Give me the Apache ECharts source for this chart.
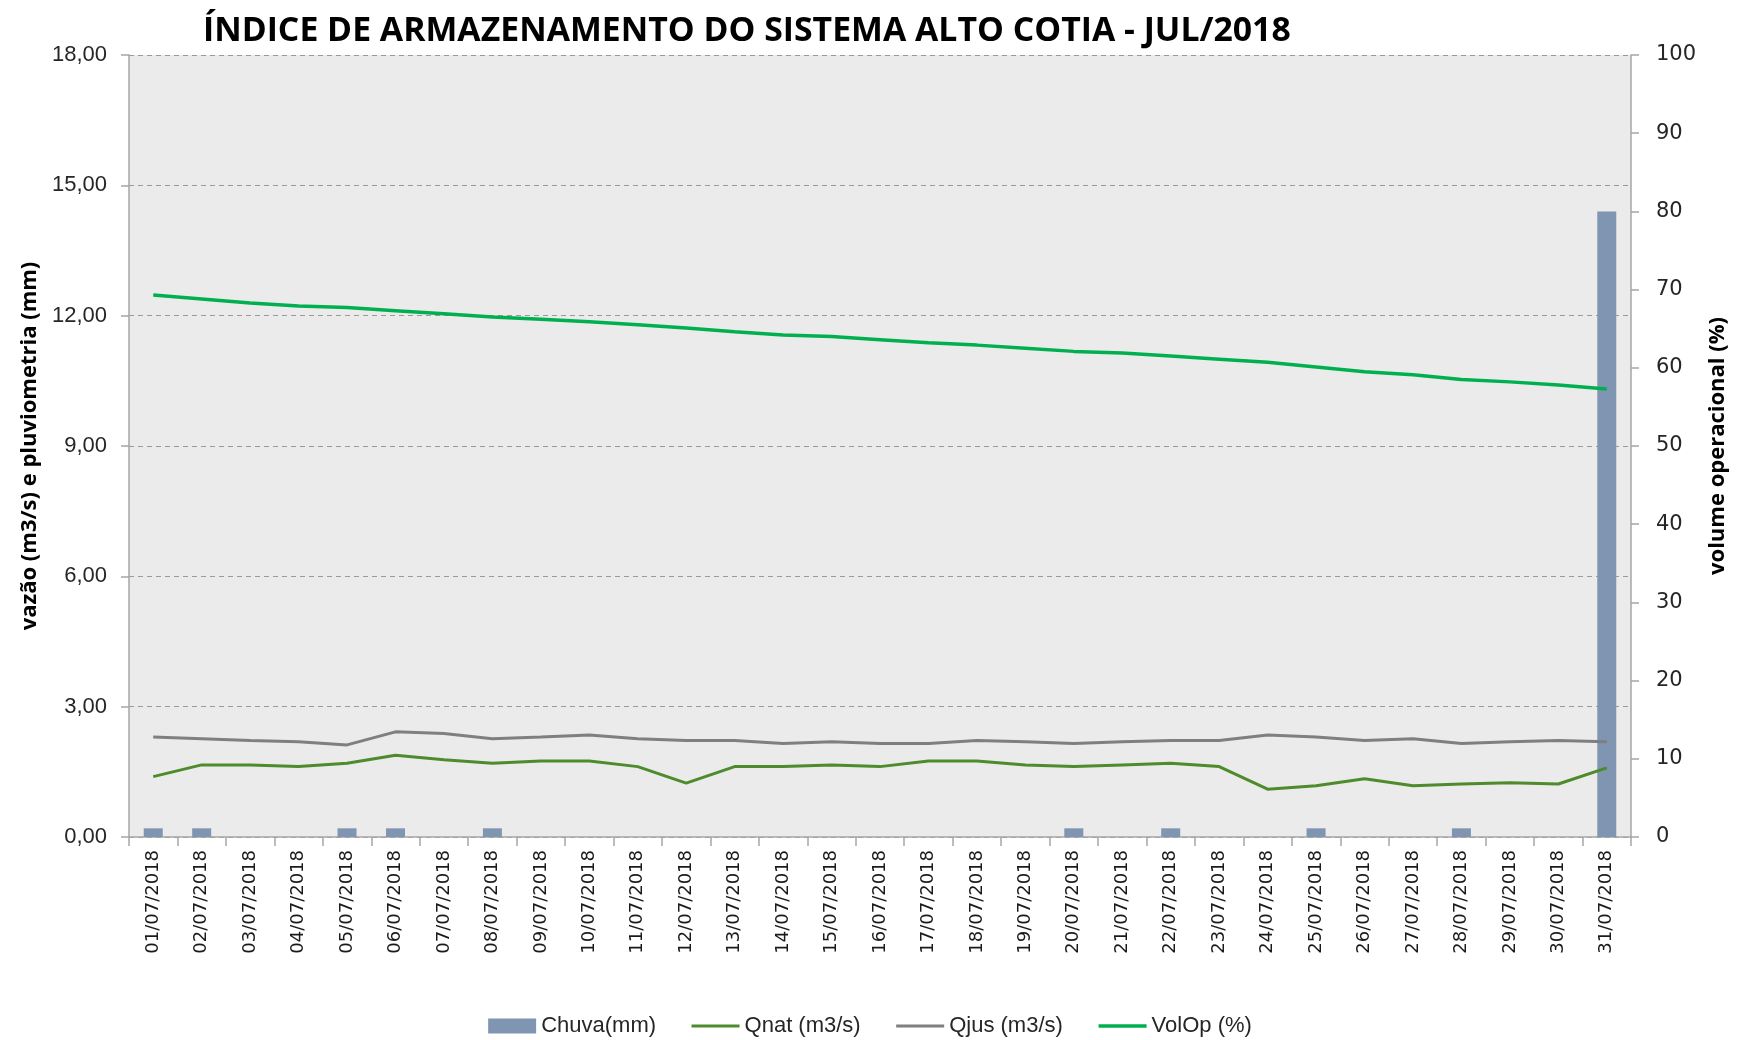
<!DOCTYPE html>
<html>
<head>
<meta charset="utf-8">
<script src="https://cdn.jsdelivr.net/npm/echarts@6/dist/echarts.min.js"></script>
<style>
  html, body { margin: 0; padding: 0; background: #fff; }
  #chart { width: 1740px; height: 1040px; }
</style>
</head>
<body>
<div id="chart"></div>
<script>
const days = [
  '01/07/2018', '02/07/2018', '03/07/2018', '04/07/2018', '05/07/2018', '06/07/2018', '07/07/2018', '08/07/2018',
  '09/07/2018', '10/07/2018', '11/07/2018', '12/07/2018', '13/07/2018', '14/07/2018', '15/07/2018', '16/07/2018',
  '17/07/2018', '18/07/2018', '19/07/2018', '20/07/2018', '21/07/2018', '22/07/2018', '23/07/2018', '24/07/2018',
  '25/07/2018', '26/07/2018', '27/07/2018', '28/07/2018', '29/07/2018', '30/07/2018', '31/07/2018'
];

// rain (mm), left axis
const chuva = [0.2, 0.2, 0, 0, 0.2, 0.2, 0, 0.2, 0, 0, 0, 0, 0, 0, 0, 0,
  0, 0, 0, 0.2, 0, 0.2, 0, 0, 0.2, 0, 0, 0.2, 0, 0, 14.4];

// natural flow (m3/s)
const qnat = [1.39, 1.66, 1.66, 1.62, 1.70, 1.88, 1.78, 1.70, 1.75, 1.75, 1.62, 1.24, 1.62, 1.62, 1.66, 1.62,
  1.75, 1.75, 1.66, 1.62, 1.66, 1.70, 1.62, 1.10, 1.18, 1.34, 1.18, 1.22, 1.25, 1.22, 1.59];

// downstream flow (m3/s)
const qjus = [2.30, 2.26, 2.22, 2.19, 2.12, 2.42, 2.38, 2.26, 2.30, 2.35, 2.26, 2.22, 2.22, 2.15, 2.19, 2.15,
  2.15, 2.22, 2.19, 2.15, 2.19, 2.22, 2.22, 2.35, 2.30, 2.22, 2.26, 2.15, 2.19, 2.22, 2.19];

// operational volume (%), right axis
const volop = [69.3, 68.8, 68.3, 67.9, 67.7, 67.3, 66.9, 66.5, 66.2, 65.9, 65.5, 65.1, 64.6, 64.2, 64.0, 63.6,
  63.2, 62.9, 62.5, 62.1, 61.9, 61.5, 61.1, 60.7, 60.1, 59.5, 59.1, 58.5, 58.2, 57.8, 57.3];

const leftTicks = [0, 18, 3];
const rightTicks = [0, 100, 10];

const chart = echarts.init(document.getElementById('chart'));

const axisGray = '#A6A6A6';
const textColor = '#262626';
// hide the marker dot in line legend icons, keep only the line
const noDot = {color: 'rgba(0,0,0,0)', borderColor: 'rgba(0,0,0,0)', borderWidth: 0};

const option = {
  animation: false,
  backgroundColor: '#fff',
  title: {
    text: 'ÍNDICE DE ARMAZENAMENTO DO SISTEMA ALTO COTIA - JUL/2018',
    left: 198,
    top: 9,
    textStyle: {
      fontFamily: 'Open Sans',
      fontWeight: 'bold',
      fontSize: 33.8,
      color: '#000'
    }
  },
  legend: {
    top: 1010,
    left: 'center',
    itemWidth: 48,
    itemHeight: 15,
    itemGap: 34,
    textStyle: {fontFamily: 'Liberation Sans', fontSize: 22, color: textColor},
    data: [
      {name: 'Chuva(mm)', icon: 'rect'},
      {name: 'Qnat (m3/s)', itemStyle: noDot, lineStyle: {width: 3}},
      {name: 'Qjus (m3/s)', itemStyle: noDot, lineStyle: {width: 3}},
      {name: 'VolOp (%)', itemStyle: noDot, lineStyle: {width: 3.5}}
    ]
  },
  grid: {
    left: 129,
    right: 109,
    top: 55,
    bottom: 203,
    show: true,
    backgroundColor: '#EBEBEB',
    borderWidth: 0
  },
  xAxis: {
    type: 'category',
    data: days,
    boundaryGap: true,
    axisLine: {show: true, lineStyle: {color: axisGray, width: 1.5}},
    axisTick: {show: true, interval: 0, length: 9, lineStyle: {color: axisGray, width: 1.5}},
    axisLabel: {
      interval: 0,
      rotate: 90,
      margin: 13,
      fontFamily: 'DejaVu Sans',
      fontSize: 18,
      color: '#1a1a1a'
    }
  },
  yAxis: [
    {
      type: 'value',
      min: leftTicks[0],
      max: leftTicks[1],
      interval: leftTicks[2],
      name: 'vazão (m3/s) e pluviometria (mm)',
      nameLocation: 'middle',
      nameRotate: 90,
      nameGap: 86,
      nameTextStyle: {fontFamily: 'Open Sans', fontWeight: 'bold', fontSize: 22, color: '#000'},
      axisLine: {show: true, lineStyle: {color: axisGray, width: 1.5}},
      axisTick: {show: true, length: 8, lineStyle: {color: axisGray, width: 1.5}},
      axisLabel: {
        fontFamily: 'Liberation Sans',
        fontSize: 22,
        color: textColor,
        margin: 22,
        formatter: v => v.toFixed(2).replace('.', ',')
      },
      splitLine: {show: true, lineStyle: {color: '#9A9A9A', type: [5, 4], width: 1.2}}
    },
    {
      type: 'value',
      position: 'right',
      min: rightTicks[0],
      max: rightTicks[1],
      interval: rightTicks[2],
      name: 'volume operacional (%)',
      nameLocation: 'middle',
      nameRotate: 90,
      nameGap: 76,
      nameTextStyle: {fontFamily: 'Open Sans', fontWeight: 'bold', fontSize: 22, color: '#000'},
      axisLine: {show: true, lineStyle: {color: axisGray, width: 1.5}},
      axisTick: {show: true, length: 8, lineStyle: {color: axisGray, width: 1.5}},
      axisLabel: {fontFamily: 'DejaVu Sans', fontSize: 21, color: textColor, margin: 25},
      splitLine: {show: false}
    }
  ],
  series: [
    {
      name: 'Chuva(mm)',
      type: 'bar',
      yAxisIndex: 0,
      data: chuva,
      barWidth: 19,
      itemStyle: {color: '#7F95B2'}
    },
    {
      name: 'Qnat (m3/s)',
      type: 'line',
      yAxisIndex: 0,
      data: qnat,
      symbol: 'none',
      lineStyle: {color: '#4E8B2C', width: 3},
      itemStyle: {color: '#4E8B2C'}
    },
    {
      name: 'Qjus (m3/s)',
      type: 'line',
      yAxisIndex: 0,
      data: qjus,
      symbol: 'none',
      lineStyle: {color: '#7F7F7F', width: 3},
      itemStyle: {color: '#7F7F7F'}
    },
    {
      name: 'VolOp (%)',
      type: 'line',
      yAxisIndex: 1,
      data: volop,
      symbol: 'none',
      lineStyle: {color: '#00B050', width: 3.5},
      itemStyle: {color: '#00B050'}
    }
  ]
};

chart.setOption(option);
</script>
</body>
</html>
